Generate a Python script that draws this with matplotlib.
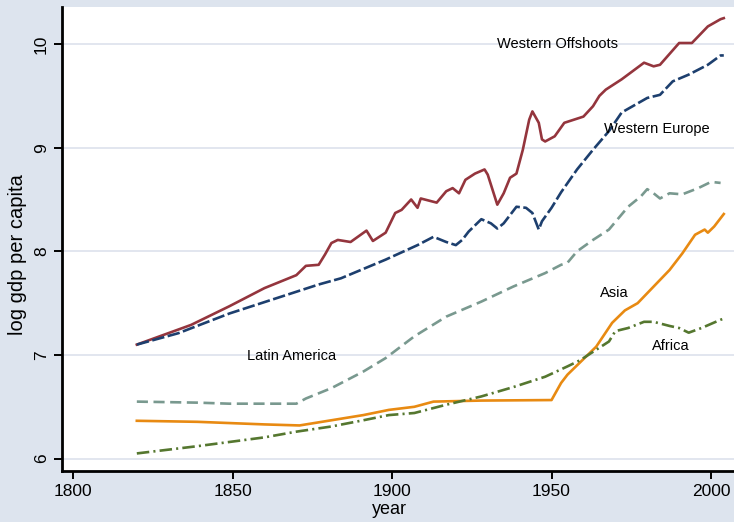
import matplotlib
matplotlib.use("Agg")
import matplotlib.pyplot as plt

plt.rcParams['font.family'] = ['Liberation Sans', 'DejaVu Sans']
plt.rcParams['lines.scale_dashes'] = False

# Log GDP per capita by region
wo_years = [1820, 1837, 1849, 1860, 1870, 1873, 1877, 1879, 1881, 1883, 1887, 1892, 1894,
            1898, 1901, 1903, 1906, 1908, 1909, 1914, 1917, 1919, 1921, 1923, 1926, 1929,
            1930, 1933, 1935, 1937, 1939, 1941, 1943, 1944, 1946, 1947, 1948, 1951, 1954,
            1957, 1960, 1963, 1965, 1967, 1972, 1979, 1982, 1984, 1990, 1994, 1999, 2003, 2004]
wo_vals = [7.10, 7.29, 7.47, 7.645, 7.77, 7.86, 7.87, 7.97, 8.08, 8.11, 8.09, 8.20, 8.10,
           8.18, 8.37, 8.40, 8.50, 8.42, 8.51, 8.47, 8.58, 8.61, 8.56, 8.69, 8.75, 8.79,
           8.74, 8.45, 8.56, 8.71, 8.75, 8.98, 9.27, 9.35, 9.24, 9.08, 9.06, 9.11, 9.24,
           9.27, 9.30, 9.40, 9.50, 9.56, 9.66, 9.82, 9.785, 9.80, 10.01, 10.01, 10.17, 10.24, 10.25]

we_years = [1820, 1833, 1849, 1865, 1877, 1884, 1898, 1908, 1913, 1917, 1920, 1922, 1924,
            1928, 1931, 1933, 1935, 1939, 1942, 1944, 1946, 1947, 1950, 1953, 1958, 1963,
            1968, 1972, 1980, 1984, 1988, 1993, 1999, 2003, 2004]
we_vals = [7.10, 7.21, 7.40, 7.56, 7.68, 7.74, 7.92, 8.06, 8.14, 8.09, 8.06, 8.11, 8.19,
           8.31, 8.27, 8.22, 8.27, 8.43, 8.42, 8.37, 8.21, 8.29, 8.42, 8.57, 8.79, 8.98,
           9.16, 9.34, 9.48, 9.51, 9.64, 9.705, 9.80, 9.89, 9.89]

la_years = [1820, 1839, 1849, 1870, 1873, 1881, 1891, 1898, 1907, 1917, 1928, 1938, 1948,
            1953, 1955, 1958, 1963, 1968, 1974, 1978, 1980, 1982, 1984, 1987, 1991, 1996,
            2000, 2003]
la_vals = [6.55, 6.54, 6.53, 6.53, 6.58, 6.68, 6.84, 6.97, 7.18, 7.37, 7.515, 7.66, 7.79,
           7.87, 7.89, 8.00, 8.11, 8.21, 8.43, 8.53, 8.60, 8.56, 8.51, 8.56, 8.55, 8.61,
           8.67, 8.66]

as_years = [1820, 1839, 1860, 1871, 1881, 1891, 1899, 1907, 1913, 1928, 1950, 1953, 1955,
            1959, 1964, 1969, 1973, 1977, 1982, 1987, 1991, 1995, 1998, 1999, 2001, 2004]
as_vals = [6.365, 6.355, 6.33, 6.32, 6.37, 6.42, 6.47, 6.50, 6.55, 6.56, 6.565, 6.73, 6.81,
           6.93, 7.08, 7.31, 7.43, 7.50, 7.66, 7.82, 7.98, 8.16, 8.21, 8.18, 8.24, 8.36]

af_years = [1820, 1839, 1860, 1870, 1881, 1891, 1899, 1907, 1917, 1928, 1938, 1948, 1955,
            1959, 1964, 1968, 1970, 1974, 1979, 1982, 1987, 1990, 1993, 1997, 2003, 2004]
af_vals = [6.05, 6.12, 6.205, 6.26, 6.31, 6.37, 6.42, 6.44, 6.52, 6.60, 6.69, 6.79, 6.89,
           6.95, 7.05, 7.13, 7.23, 7.26, 7.32, 7.32, 7.28, 7.26, 7.215, 7.26, 7.34, 7.35]

x_ticks = [1800, 1850, 1900, 1950, 2000]
y_ticks = [6, 7, 8, 9, 10]

labels = ["Western Offshoots", "Western Europe", "Latin America", "Asia", "Africa"]
label_pos = [(1932.9, 10.0), (1966.3, 9.18), (1854.6, 6.99), (1965.2, 7.6), (1981.5, 7.09)]

bg = '#dde4ee'
fig = plt.figure(figsize=(7.34, 5.22), dpi=100, facecolor=bg)
ax = fig.add_axes([0.0845, 0.098, 0.9155, 0.8885])
ax.set_facecolor('white')

for y in y_ticks:
    ax.axhline(y, color='#dfe4ee', lw=1.3, zorder=0)

ax.plot(wo_years, wo_vals, color='#94353d', lw=1.9, solid_joinstyle='round')
ax.plot(we_years, we_vals, color='#1d3f6e', lw=1.9, linestyle=(0, (9, 2.5)))
ax.plot(la_years, la_vals, color='#79998f', lw=1.9, linestyle=(0, (8, 4)))
ax.plot(as_years, as_vals, color='#e88a12', lw=1.9)
ax.plot(af_years, af_vals, color='#55772f', lw=1.9, linestyle=(0, (9, 3, 1.5, 3)))

for text, (tx, ty) in zip(labels, label_pos):
    ax.text(tx, ty, text, fontsize=10.5, ha='left', va='center', color='black')

ax.set_xlim(1796.55, 2007.2)
ax.set_ylim(5.882, 10.357)
ax.set_xticks(x_ticks)
ax.set_yticks(y_ticks)
ax.tick_params(axis='both', direction='out', length=6, width=1.4, labelsize=12.5, color='black')
ax.tick_params(axis='y', labelrotation=90)
for lbl in ax.get_yticklabels():
    lbl.set_va('center')

for side in ['top', 'right']:
    ax.spines[side].set_visible(False)
for side in ['left', 'bottom']:
    ax.spines[side].set_linewidth(2)

ax.set_xlabel('year', fontsize=13)
ax.set_ylabel('log gdp per capita', fontsize=14.5)
ax.xaxis.set_label_coords(0.4866, -0.064)
ax.yaxis.set_label_coords(-0.052, 0.466)

fig.savefig('out.png', dpi=100, facecolor=bg)
